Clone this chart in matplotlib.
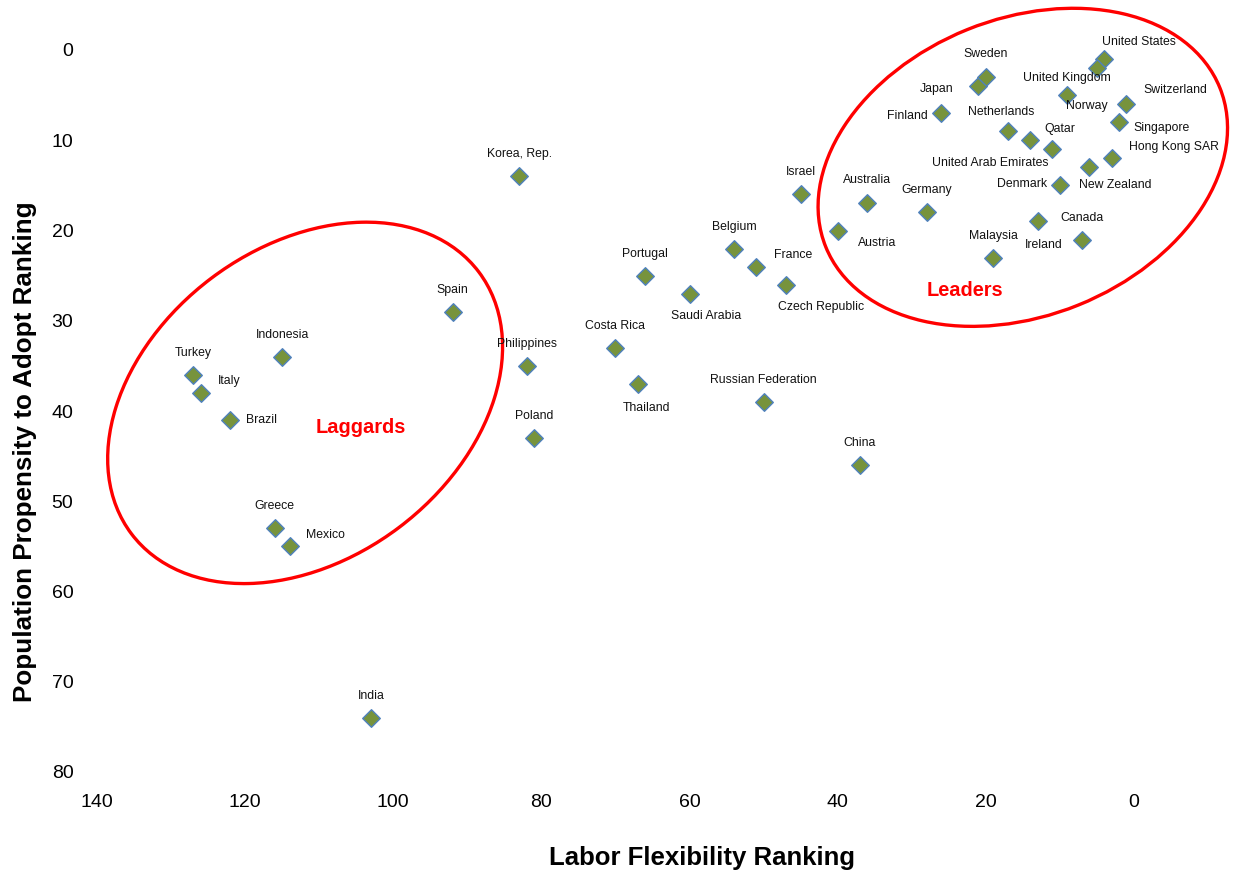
import matplotlib
matplotlib.use('Agg')
import matplotlib.pyplot as plt
from matplotlib.patches import Ellipse
from matplotlib.transforms import ScaledTranslation

plt.rcParams['font.family'] = ['Liberation Sans', 'DejaVu Sans']

# ranking data
countries = ['United States', 'Norway', 'United Kingdom', 'Switzerland', 'Singapore',
             'Hong Kong SAR', 'New Zealand', 'Denmark', 'Canada', 'Ireland', 'Malaysia',
             'Germany', 'Australia', 'Austria', 'Finland', 'Japan', 'Sweden', 'Netherlands',
             'United Arab Emirates', 'Qatar', 'Israel', 'Belgium', 'France', 'Czech Republic',
             'Saudi Arabia', 'Portugal', 'Korea, Rep.', 'Spain', 'Philippines', 'Costa Rica',
             'Thailand', 'Russian Federation', 'Poland', 'China', 'India', 'Indonesia',
             'Turkey', 'Italy', 'Brazil', 'Greece', 'Mexico']
labor_rank = [4, 5, 9, 1, 2, 3, 6, 10, 13, 7, 19, 28, 36, 40, 26, 21, 20, 17, 14, 11,
              45, 54, 51, 47, 60, 66, 83, 92, 82, 70, 67, 50, 81, 37, 103, 115, 127, 126,
              122, 116, 114]
adopt_rank = [1, 2, 5, 6, 8, 12, 13, 15, 19, 21, 23, 18, 17, 20, 7, 4, 3, 9, 10, 11,
              16, 22, 24, 26, 27, 25, 14, 29, 35, 33, 37, 39, 43, 46, 74, 34, 36, 38,
              41, 53, 55]

x_ticks = [140, 120, 100, 80, 60, 40, 20, 0]
y_ticks = [0, 10, 20, 30, 40, 50, 60, 70, 80]

# label offsets from marker, in pixels (screen y down)
label_off = {
    'United States': (35, -17), 'Norway': (-10, 38), 'United Kingdom': (0, -17),
    'Switzerland': (49, -14), 'Singapore': (42, 6), 'Hong Kong SAR': (62, -11),
    'New Zealand': (26, 18), 'Denmark': (-38, -1), 'Canada': (44, -3),
    'Ireland': (-38, 5), 'Malaysia': (0, -22), 'Germany': (0, -22),
    'Australia': (0, -23), 'Austria': (40, 13), 'Finland': (-34, 3),
    'Japan': (-42, 3), 'Sweden': (0, -23), 'Netherlands': (-7, -19),
    'United Arab Emirates': (-40, 23), 'Qatar': (7, -20), 'France': (37, -12),
    'Czech Republic': (35, 22), 'Saudi Arabia': (17, 22), 'Thailand': (9, 24),
    'Italy': (28, -12), 'Brazil': (31, 0), 'Mexico': (36, -11),
}

fig = plt.figure(figsize=(12.41, 8.73), dpi=100)
ax = fig.add_axes([97 / 1241, 1 - 772 / 873, (1245 - 97) / 1241, (772 - 50) / 873])
ax.set_xlim(140, -15)
ax.set_ylim(80, 0)
for s in ax.spines.values():
    s.set_visible(False)
ax.set_xticks(x_ticks)
ax.set_yticks(y_ticks)
ax.tick_params(length=0, labelsize=14, pad=16)
ax.tick_params(axis='y', pad=17)

ax.scatter(labor_rank, adopt_rank, marker='D', s=80, c='#77933C',
           edgecolors='#4F81BD', linewidths=1, zorder=3, clip_on=False)

for name, xv, yv in zip(countries, labor_rank, adopt_rank):
    dx, dy = label_off.get(name, (0, -22))
    ax.annotate(name, (xv, yv), xytext=(dx, -dy), textcoords='offset pixels',
                ha='center', va='center', fontsize=8.8, color='#111111')

# highlight ellipses (size in inches, centred on data point)
def ring(cx, cy, w, h, ang):
    tr = fig.dpi_scale_trans + ScaledTranslation(cx, cy, ax.transData)
    e = Ellipse((0, 0), w, h, angle=ang, transform=tr, fill=False,
                edgecolor='#FF0000', linewidth=2.4, clip_on=False)
    ax.add_patch(e)

ring(15.0, 13.0, 4.25, 2.97, 22)
ring(111.9, 39.1, 4.35, 3.12, 37)

ax.text(104.4, 41.8, 'Laggards', color='#FF0000', fontsize=14.4, fontweight='bold',
        ha='center', va='center')
ax.text(22.8, 26.6, 'Leaders', color='#FF0000', fontsize=14.4, fontweight='bold',
        ha='center', va='center')

fig.text(702 / 1241, 1 - 858 / 873, 'Labor Flexibility Ranking', fontsize=18.5,
         fontweight='bold', ha='center', va='center')
fig.text(25 / 1241, 1 - 452 / 873, 'Population Propensity to Adopt Ranking',
         fontsize=18.7, fontweight='bold', rotation=90, ha='center', va='center',
         family=['Liberation Sans Narrow', 'Liberation Sans'])

fig.savefig('out.png', dpi=100)
